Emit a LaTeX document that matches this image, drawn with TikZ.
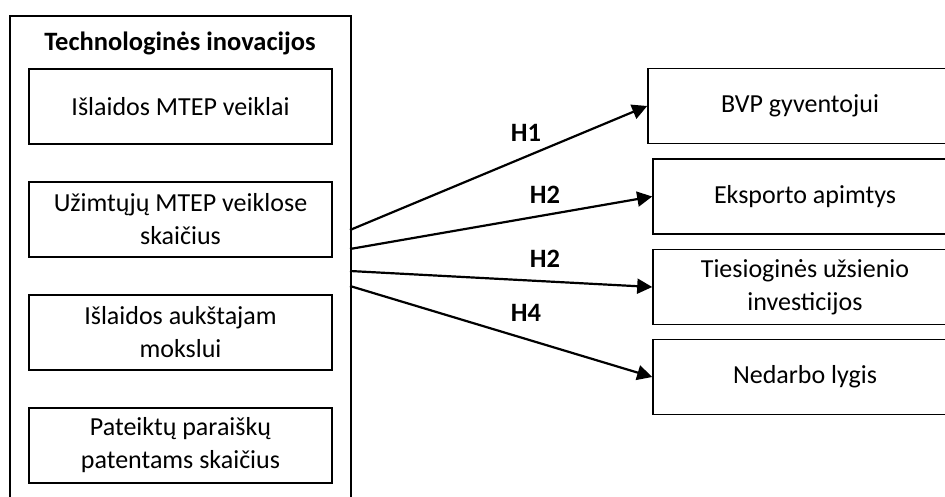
\documentclass[tikz,border=0pt]{standalone}
\usepackage{fontspec}
\setmainfont{Carlito}
\usetikzlibrary{arrows.meta}
\begin{document}
\begin{tikzpicture}[x=1pt,y=-1pt,
  every node/.style={font=\fontsize{26}{33}\selectfont},
  box/.style={draw, line width=1.6pt, minimum width=303pt, minimum height=75pt, align=center, inner sep=0pt},
  hyp/.style={font=\fontsize{26.5}{32}\selectfont\bfseries},
  arr/.style={line width=2.2pt, -{Triangle[length=15pt,width=15pt]}}]
\useasboundingbox (0,0) rectangle (945,497);
\node[draw, line width=1.6pt, anchor=north west, minimum width=341pt, minimum height=505pt, inner sep=0pt] (grp) at (9,15){};
\node[font=\fontsize{26.5}{32}\selectfont\bfseries] (title) at (180,43){Technologinės inovacijos};
\node[box] (in1) at (180.5,106.5){Išlaidos MTEP veiklai};
\node[box] (in2) at (180.5,219.5){Užimtųjų MTEP veiklose\\skaičius};
\node[box] (in3) at (180.5,332.5){Išlaidos aukštajam\\mokslui};
\node[box] (in4) at (180.5,445.5){Pateiktų paraiškų\\patentams skaičius};
\node[box, minimum width=304pt] (out1) at (800,106){BVP gyventojui};
\node[box, minimum width=304pt] (out2) at (805,196.5){Eksporto apimtys};
\node[box, minimum width=304pt] (out3) at (805,287){Tiesioginės užsienio\\investicijos};
\node[box, minimum width=304pt] (out4) at (805,377){Nedarbo lygis};
\coordinate (s1) at (350,230);
\coordinate (s2) at (350,249);
\coordinate (s3) at (350,271);
\coordinate (s4) at (350,286);
\draw[arr] (s1) -- (out1.west);
\draw[arr] (s2) -- (out2.west);
\draw[arr] (s3) -- (out3.west);
\draw[arr] (s4) -- (out4.west);
\node[hyp] (h1) at (526,133){H1};
\node[hyp] (h2) at (545,195){H2};
\node[hyp] (h3) at (545,259){H2};
\node[hyp] (h4) at (526,313){H4};
\end{tikzpicture}
\end{document}
